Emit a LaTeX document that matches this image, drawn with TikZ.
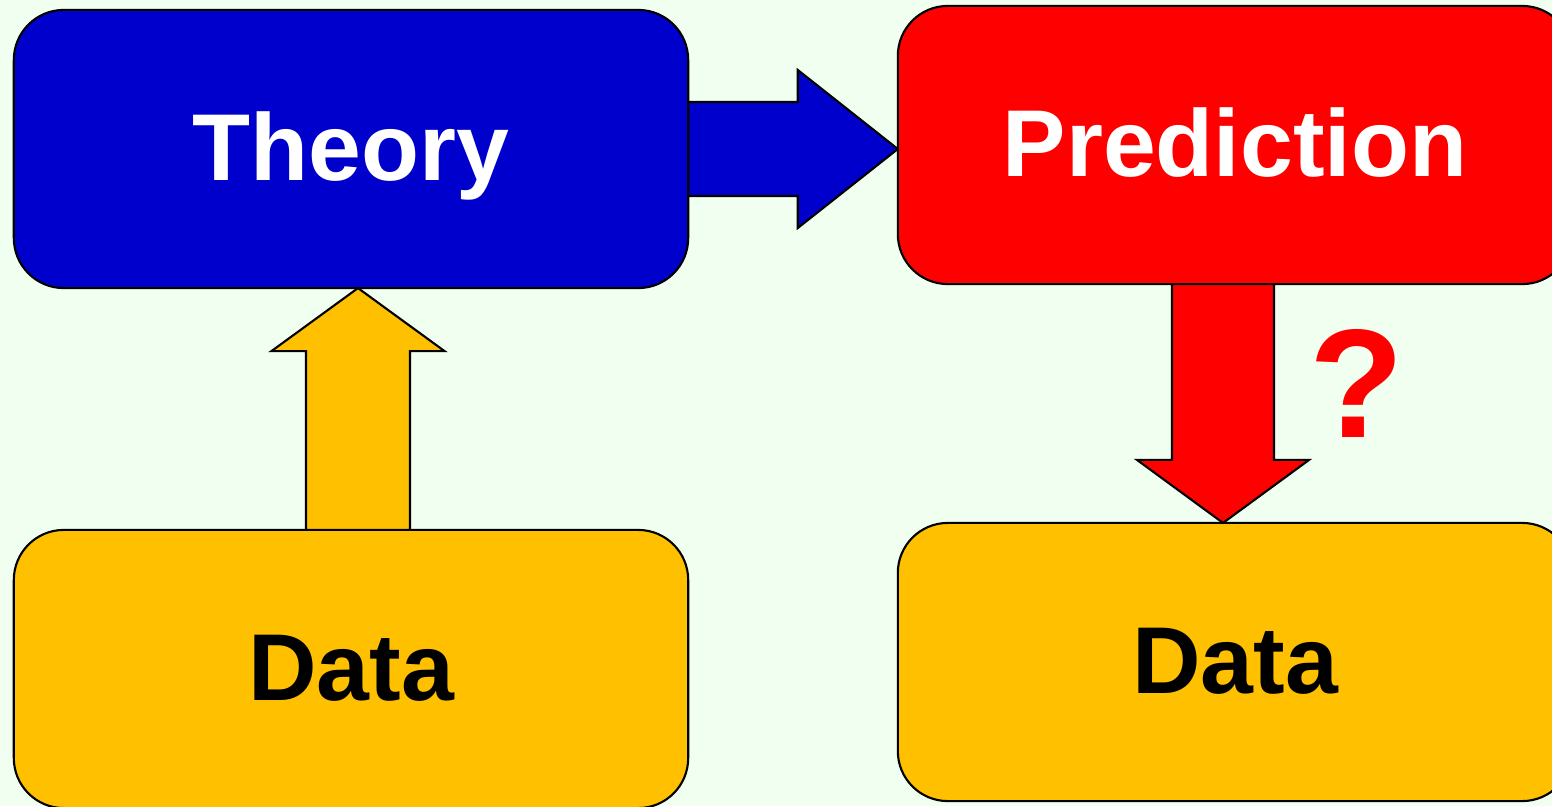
\documentclass[tikz,border=0pt]{standalone}
\usepackage{fontspec}
\setmainfont{Liberation Sans}
\usepackage{xcolor}
\usetikzlibrary{calc}
\newlength{\boxwidth}
\newlength{\boxheight}
\newlength{\cornerradius}
\setlength{\boxwidth}{6.74cm}
\setlength{\boxheight}{2.78cm}
\setlength{\cornerradius}{0.5cm}
\definecolor{canvas}{HTML}{F0FFF0}
\definecolor{theoryblue}{HTML}{0000CC}
\definecolor{predictred}{HTML}{FF0000}
\definecolor{datagold}{HTML}{FFC000}
\tikzset{
  box/.style={draw=black,line width=0.6pt,rounded corners=\cornerradius,
    minimum width=\boxwidth,minimum height=\boxheight,inner sep=0pt,outer sep=0pt,
    text height=0.62cm,text depth=0pt,font=\fontsize{27}{32}\selectfont\bfseries},
  blockline/.style={draw=black,line width=0.6pt,line join=miter}
}
% #1 fill, #2 tail, #3 tip, #4 shaft half width, #5 head half width, #6 head length
\newcommand{\blockarrow}[6]{%
  \coordinate (headbase) at ($(#3)!#6!(#2)$);
  \filldraw[blockline,fill=#1] ($(#2)!#4!90:(#3)$) -- ($(headbase)!#4!90:(#3)$)
    -- ($(headbase)!#5!90:(#3)$) -- (#3) -- ($(headbase)!#5!-90:(#3)$)
    -- ($(headbase)!#4!-90:(#3)$) -- ($(#2)!#4!-90:(#3)$) -- cycle;
}
\begin{document}
\begin{tikzpicture}[x=0.01cm,y=-0.01cm]
				% Boundary box
				\useasboundingbox (0,0) rectangle (1552,806);
				\clip (0,0) rectangle (1552,806);
				\fill[canvas] (0,0) rectangle (1552,806);

				% Boxes
				\node[box,fill=theoryblue,text=white] (theory) at (351,149) {Theory};
				\node[box,fill=predictred,text=white] (prediction) at (1235,145) {Prediction};
				\node[box,fill=datagold,text=black] (olddata) at (351,669) {Data};
				\node[box,fill=datagold,text=black] (newdata) at (1235,662) {Data};

				% Arrows
				% Theory to prediction
				\coordinate (righttip) at (prediction.west |- theory.east);
				\blockarrow{theoryblue}{theory.east}{righttip}{0.47cm}{0.79cm}{1.0cm}

				% Data up to theory
				\coordinate (upfoot) at ($(olddata.north)+(7,0)$);
				\coordinate (uptip) at (theory.south -| upfoot);
				\blockarrow{datagold}{upfoot}{uptip}{0.52cm}{0.865cm}{0.63cm}

				% Prediction down to data
				\coordinate (downfoot) at ($(prediction.south)+(-12,0)$);
				\coordinate (downtip) at (newdata.north -| downfoot);
				\blockarrow{predictred}{downfoot}{downtip}{0.51cm}{0.86cm}{0.63cm}

				% Question mark
				\node[text=predictred,inner sep=0pt,font=\fontsize{44}{50}\selectfont\bfseries] (query) at (1357,383) {?};
			\end{tikzpicture}
\end{document}
